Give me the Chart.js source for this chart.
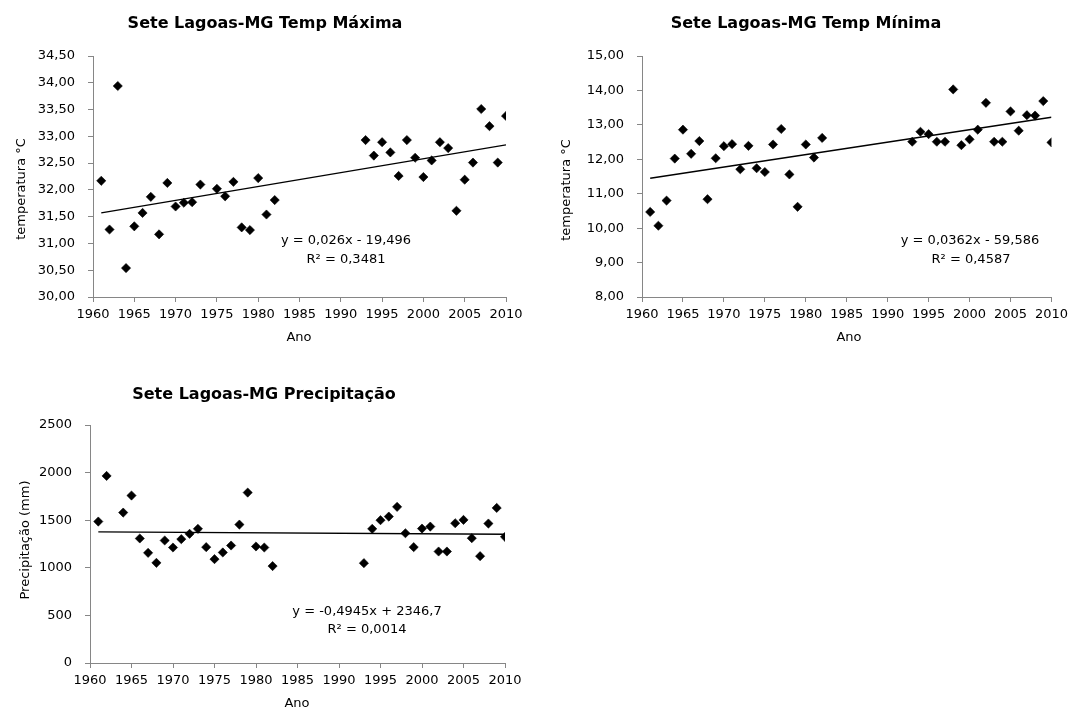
<!DOCTYPE html>
<html><head><meta charset="utf-8">
<script src="https://cdn.jsdelivr.net/npm/chart.js@4/dist/chart.umd.min.js"></script>
<style>
html,body{margin:0;padding:0;background:#fff;width:1073px;height:710px;overflow:hidden;}
canvas{position:absolute;}
</style></head><body>
<canvas id="c1" width="530" height="350" style="left:0;top:0"></canvas>
<canvas id="c2" width="533" height="350" style="left:540px;top:0"></canvas>
<canvas id="c3" width="530" height="345" style="left:0;top:365px"></canvas>
<script>
// ---- data ----
const yearsMax = [1961,1962,1963,1964,1965,1966,1967,1968,1969,1970,1971,1972,1973,
  1975,1976,1977,1978,1979,1980,1981,1982,
  1993,1994,1995,1996,1997,1998,1999,2000,2001,2002,2003,2004,2005,2006,2007,2008,2009,2010];
const tempMax = [32.17,31.26,33.94,30.54,31.32,31.57,31.87,31.17,32.13,31.69,31.76,31.77,32.10,
  32.02,31.88,32.15,31.30,31.25,32.22,31.54,31.81,
  32.93,32.64,32.89,32.70,32.26,32.93,32.60,32.24,32.55,32.89,32.78,31.61,32.19,32.51,33.51,33.19,32.51,33.38];
const yearsMin = [1961,1962,1963,1964,1965,1966,1967,1968,1969,1970,1971,1972,1973,1974,1975,1976,1977,1978,1979,1980,1981,1982,
  1993,1994,1995,1996,1997,1998,1999,2000,2001,2002,2003,2004,2005,2006,2007,2008,2009,2010];
const tempMin = [10.47,10.07,10.80,12.02,12.86,12.16,12.53,10.84,12.03,12.38,12.44,11.71,12.39,11.74,11.63,12.43,12.88,11.56,10.62,12.43,12.05,12.62,
  12.51,12.80,12.73,12.51,12.51,14.03,12.41,12.58,12.86,13.64,12.51,12.51,13.39,12.83,13.28,13.27,13.69,12.49];
const yearsPrec = [1961,1962,1964,1965,1966,1967,1968,1969,1970,1971,1972,1973,1974,1975,1976,1977,1978,1979,1980,1981,1982,
  1993,1994,1995,1996,1997,1998,1999,2000,2001,2002,2003,2004,2005,2006,2007,2008,2009,2010];
const precip = [1486,1965,1580,1759,1308,1157,1052,1287,1213,1301,1357,1409,1217,1091,1161,1234,1454,1790,1224,1213,1018,
  1049,1409,1500,1538,1640,1363,1217,1412,1433,1171,1171,1468,1503,1311,1122,1465,1629,1325];
// trend line end points (x = first/last year)
const trendYears = [1961, 2010];
const trendMax = [31.57, 32.84];
const trendMin = [11.45, 13.22];
const trendPrec = [1377, 1353];
// tick labels
const xTickLabels = ['1960','1965','1970','1975','1980','1985','1990','1995','2000','2005','2010'];
const yTicksMax = ['30,00','30,50','31,00','31,50','32,00','32,50','33,00','33,50','34,00','34,50'];
const yTicksMin = ['8,00','9,00','10,00','11,00','12,00','13,00','14,00','15,00'];
const yTicksPrec = ['0','500','1000','1500','2000','2500'];
// texts
const titles = ['Sete Lagoas-MG Temp Máxima','Sete Lagoas-MG Temp Mínima','Sete Lagoas-MG Precipitação'];
const eqMax = ['y = 0,026x - 19,496','R² = 0,3481'];
const eqMin = ['y = 0,0362x - 59,586','R² = 0,4587'];
const eqPrec = ['y = -0,4945x + 2346,7','R² = 0,0014'];

const FONT = '"DejaVu Sans", sans-serif';
const AX = '#868686';

const textPlugin = {
  id: 'texts',
  afterDraw(chart, args, opts) {
    const ctx = chart.ctx;
    const xs = chart.scales.x, ys = chart.scales.y;
    (opts.items || []).forEach(it => {
      ctx.save();
      ctx.font = it.font;
      ctx.fillStyle = '#000';
      ctx.textAlign = 'center';
      ctx.textBaseline = 'middle';
      let px = it.dx !== undefined ? xs.getPixelForValue(it.dx) : it.px;
      let py = it.dy !== undefined ? ys.getPixelForValue(it.dy) + (it.off || 0) : it.py;
      ctx.translate(px, py);
      if (it.rot) ctx.rotate(it.rot);
      ctx.fillText(it.text, 0, 0);
      ctx.restore();
    });
  }
};

function build(id, o) {
  const pts = o.xs.map((x, i) => ({x: x, y: o.ys[i]}));
  const tr = trendYears.map((x, i) => ({x: x, y: o.trend[i]}));
  return new Chart(document.getElementById(id), {
    type: 'scatter',
    data: { datasets: [
      { data: tr, showLine: true, borderColor: '#000', borderWidth: 1.4, pointRadius: 0, order: 2 },
      { data: pts, pointStyle: 'rectRot', pointRadius: 4.6, backgroundColor: '#000', borderColor: '#000', borderWidth: 0.6, order: 1 }
    ]},
    options: {
      responsive: false, animation: false, devicePixelRatio: 1,
      layout: { padding: o.pad },
      plugins: { legend: {display: false}, tooltip: {enabled: false}, title: {display: false},
        texts: { items: o.texts } },
      scales: {
        x: { type: 'linear', min: 1960, max: 2010,
          afterBuildTicks: s => { s.ticks = xTickLabels.map(v => ({value: +v})); },
          ticks: { autoSkip: false, maxRotation: 0, padding: 5, color: '#000', font: {family: FONT, size: 13},
            callback: (v, i) => xTickLabels[i] },
          grid: { drawOnChartArea: false, drawTicks: true, tickLength: 5, color: AX, lineWidth: 1 },
          border: { display: true, color: AX, width: 1 },
          afterFit: s => { s.height = o.xh; } },
        y: { min: o.ymin, max: o.ymax,
          afterBuildTicks: s => { s.ticks = o.yt.map((t, i) => ({value: o.ymin + i * o.ystep})); },
          ticks: { autoSkip: false, padding: 13, color: '#000', font: {family: FONT, size: 13},
            callback: (v, i) => o.yt[i] },
          grid: { drawOnChartArea: false, drawTicks: true, tickLength: 5, color: AX, lineWidth: 1 },
          border: { display: true, color: AX, width: 1 },
          afterFit: s => { s.width = o.yw; } }
      }
    },
    plugins: [textPlugin]
  });
}

const TF = 'bold 16px ' + FONT;
const LF = '13px ' + FONT;

build('c1', { xs: yearsMax, ys: tempMax, trend: trendMax, ymin: 30, ymax: 34.5, ystep: 0.5, yt: yTicksMax,
  pad: {left: 0, top: 56, right: 24, bottom: 0}, yw: 93, xh: 53,
  texts: [
    {text: titles[0], font: TF, px: 265, py: 24},
    {text: 'Ano', font: LF, px: 299, py: 338},
    {text: 'temperatura °C', font: LF, px: 22, py: 189, rot: -Math.PI/2},
    {text: eqMax[0], font: LF, px: 346, py: 241},
    {text: eqMax[1], font: LF, px: 346, py: 260}
  ]});

build('c2', { xs: yearsMin, ys: tempMin, trend: trendMin, ymin: 8, ymax: 15, ystep: 1, yt: yTicksMin,
  pad: {left: 0, top: 56, right: 17, bottom: 0}, yw: 102, xh: 53,
  texts: [
    {text: titles[1], font: TF, px: 266, py: 24},
    {text: 'Ano', font: LF, px: 309, py: 338},
    {text: 'temperatura °C', font: LF, px: 27, py: 190, rot: -Math.PI/2},
    {text: eqMin[0], font: LF, px: 430, py: 241},
    {text: eqMin[1], font: LF, px: 431, py: 260}
  ]});

build('c3', { xs: yearsPrec, ys: precip, trend: trendPrec, ymin: 0, ymax: 2500, ystep: 500, yt: yTicksPrec,
  pad: {left: 0, top: 60, right: 25, bottom: 0}, yw: 90, xh: 47,
  texts: [
    {text: titles[2], font: TF, px: 264, py: 30},
    {text: 'Ano', font: LF, px: 297, py: 339},
    {text: 'Precipitação (mm)', font: LF, px: 26, py: 175, rot: -Math.PI/2},
    {text: eqPrec[0], font: LF, px: 367, py: 247},
    {text: eqPrec[1], font: LF, px: 367, py: 265}
  ]});
</script>
</body></html>
